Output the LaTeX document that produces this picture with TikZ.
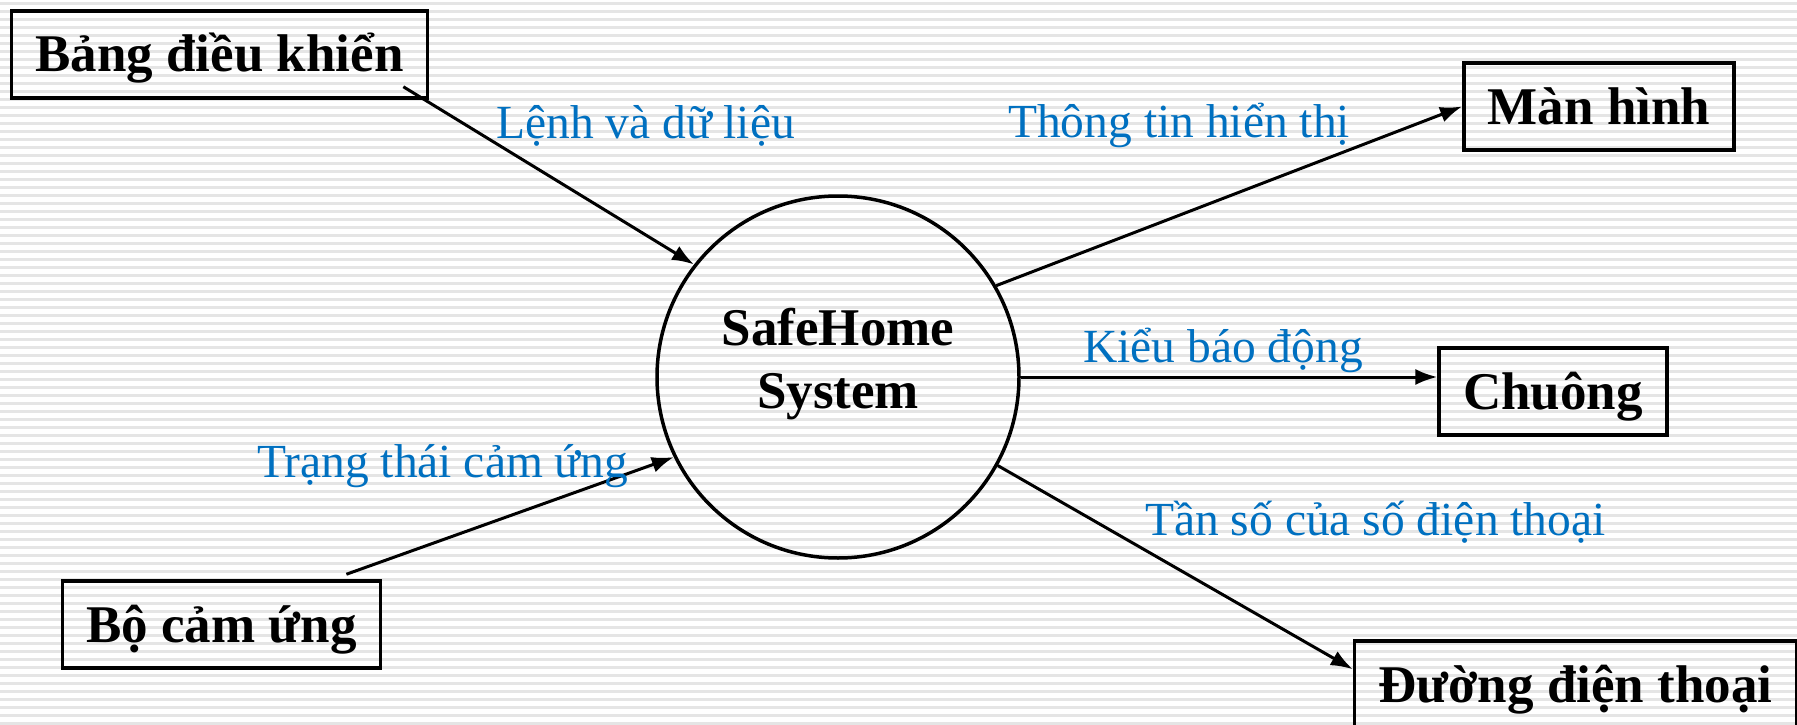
\documentclass[tikz,border=0pt]{standalone}
\usepackage{fontspec}
\setmainfont{Liberation Serif}
\usepackage{tikz}
\usetikzlibrary{arrows.meta,calc}
\definecolor{flowblue}{RGB}{0,112,192}
\tikzset{entity/.style={
    draw=black, line width=3.5pt, anchor=base,
    font=\fontsize{53}{63}\selectfont\bfseries,
    text height=45pt, text depth=10pt,
    inner xsep=24pt, inner ysep=16pt},
  flowlabel/.style={
    anchor=base west, inner sep=0pt, text=flowblue,
    font=\fontsize{47.5}{55}\selectfont},
  flow/.style={
    draw=black, line width=3pt,
    -{Latex[length=22pt,width=16pt]}},
  stripe/.style={fill=gray!20}}

\begin{document}
\begin{tikzpicture}[x=1pt,y=-1pt]
\useasboundingbox (0,0) rectangle (1797,725);
\fill[white] (0,0) rectangle (1797,725);
\foreach \y in {2,10,...,725}
  \fill[stripe] (0,\y) rectangle (1797,\y+2.6);

% the system process
\node[draw=black, line width=3.5pt, circle, minimum size=362pt, inner sep=0pt] (sys) at (838,377) {};
\node[align=center, inner sep=0pt, font=\fontsize{53}{63}\selectfont\bfseries] (systxt) at ([yshift=13pt]sys.center) {SafeHome\\System};

% external entities
\node[entity] (panel) at (219.5,72) {Bảng điều khiển};
\node[entity] (sensor) at (221.5,642) {Bộ cảm ứng};
\node[entity] (screen) at (1599,124) {Màn hình};
\node[entity] (bell) at (1553,409) {Chuông};
\node[entity] (phone) at (1575.5,702) {Đường điện thoại};

% data flows
\draw[flow] ([xshift=-26pt,yshift=13pt]panel.south east) -- (sys.142);
\draw[flow] ([xshift=-36pt,yshift=5pt]sensor.north east) -- (sys.206);
\draw[flow] (sys.30) -- (screen.west);
\draw[flow] (sys.east) -- (sys.east -| bell.west);
\draw[flow] (sys.331) -- ([yshift=-30pt]phone.north west);

\node[flowlabel] (lcmd) at (496,138) {Lệnh và dữ liệu};
\node[flowlabel] (lstate) at (257,477) {Trạng thái cảm ứng};
\node[flowlabel] (lshow) at (1008,137) {Thông tin hiển thị};
\node[flowlabel] (lalarm) at (1083,362) {Kiểu báo động};
\node[flowlabel] (lfreq) at (1145,535) {Tần số của số điện thoại};
\end{tikzpicture}
\end{document}
